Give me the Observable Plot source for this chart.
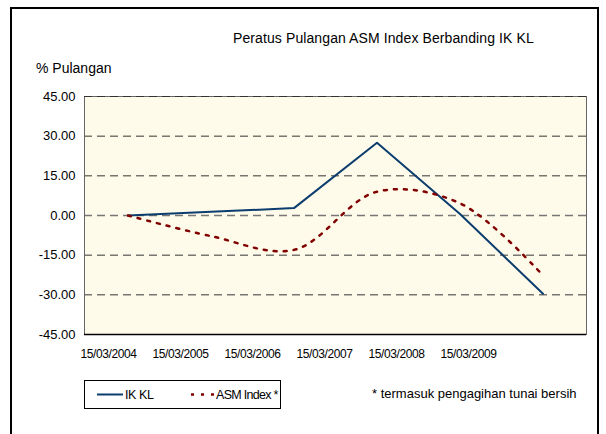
<!DOCTYPE html>
<html>
<head>
<meta charset="utf-8">
<script src="https://cdn.jsdelivr.net/npm/d3@7"></script>
<script src="https://cdn.jsdelivr.net/npm/@observablehq/plot@0.6"></script>
<style>
  body { margin: 0; background: #fff; font-family: "Liberation Sans", Arial, sans-serif; }
  #wrap { position: relative; width: 606px; height: 434px; overflow: hidden; background: #fff; }
  #frame { position: absolute; left: 10px; top: 7px; width: 589px; height: 460px; border: 2px solid #000; box-sizing: border-box; }
  #chart { position: absolute; left: 0; top: 0; }
  #xlabels { position: absolute; left: 0; top: 344px; }
  .t { position: absolute; white-space: nowrap; color: #000; line-height: 1; }
  #legend { position: absolute; left: 84px; top: 380px; width: 197px; height: 29px; border: 1px solid #000; box-sizing: border-box; background: #fff; }
</style>
</head>
<body>
<div id="wrap">
  <div id="frame"></div>
  <div id="chart"></div>
  <div id="xlabels"></div>
  <div class="t" style="left:233px; top:31px; font-size:14px; letter-spacing:0.1px;">Peratus Pulangan ASM Index Berbanding IK KL</div>
  <div class="t" style="left:36px; top:61px; font-size:14px;">% Pulangan</div>
  <div id="legend"></div>
  <div class="t" style="left:372px; top:387px; font-size:13px;">* termasuk pengagihan tunai bersih</div>
</div>
<script>
// ---- data ----
const dates = ["15/03/2004", "15/03/2005", "15/03/2006", "15/03/2007", "15/03/2008", "15/03/2009"];
const ikkl = [0, 1.4, 2.8, 27.5, 0.6, -29.6];
const asmIndex = [0, -7.8, -13.0, 9.0, 4.6, -22.7];
const yTicks = [-45, -30, -15, 0, 15, 30, 45];
const seriesNames = ["IK KL", "ASM Index *"];
const seriesColors = ["#0b3d6e", "#800000"];

const ikRows = dates.map((d, i) => ({date: d, value: ikkl[i]}));
const asmRows = dates.map((d, i) => ({date: d, value: asmIndex[i]}));
const fmt = d => d.toFixed(2);
const font = '"Liberation Sans", Arial, sans-serif';

const chart = Plot.plot({
  width: 606,
  height: 434,
  marginLeft: 84,
  marginRight: 20,
  marginTop: 96,
  marginBottom: 100,
  style: { fontFamily: font, fontSize: "13px", background: "transparent", color: "#000" },
  x: { type: "band", domain: dates, padding: 0, label: null, axis: null },
  y: { domain: [-45, 45], label: null },
  marks: [
    Plot.frame({ fill: "#fffbea" }),
    Plot.ruleY(yTicks.filter(v => v !== 0 && Math.abs(v) !== 45), { stroke: "#333", strokeWidth: 1, strokeDasharray: "8 5" }),
    Plot.ruleY([0], { stroke: "#777", strokeWidth: 1.6, strokeDasharray: "8 5" }),
    Plot.frame({ stroke: "#666", strokeWidth: 1 }),
    Plot.ruleY([45], { stroke: "#333", strokeWidth: 1, strokeDasharray: "8 5" }),
    Plot.ruleY([-45], { stroke: "#000", strokeWidth: 1.5 }),
    Plot.axisY({ ticks: yTicks, tickSize: 0, tickPadding: 9, tickFormat: fmt, label: null, fontSize: 13 }),
    Plot.line(ikRows, { x: "date", y: "value", stroke: seriesColors[0], strokeWidth: 2 }),
    Plot.line(asmRows, { x: "date", y: "value", stroke: seriesColors[1], strokeWidth: 2.5, strokeDasharray: "3 7", curve: "catmull-rom" })
  ]
});
document.getElementById("chart").appendChild(chart);

// category labels (spaced as in the original, narrower than the plot area)
const xl = Plot.plot({
  width: 606,
  height: 20,
  marginLeft: 72,
  marginRight: 102,
  marginTop: 0,
  marginBottom: 0,
  style: { fontFamily: font, fontSize: "12px", letterSpacing: "-0.4px", background: "transparent", color: "#000" },
  x: { type: "band", domain: dates, padding: 0, label: null, axis: null },
  marks: [
    Plot.text(dates, { x: d => d, text: d => d, frameAnchor: "middle", fontSize: 12 })
  ]
});
document.getElementById("xlabels").appendChild(xl);

// ---- legend ----
const lg = d3.select("#legend");
const svg = lg.append("svg").attr("width", 195).attr("height", 27).style("position", "absolute").style("left", 0).style("top", 0);
svg.append("line").attr("x1", 12).attr("x2", 38).attr("y1", 13.5).attr("y2", 13.5)
  .attr("stroke", seriesColors[0]).attr("stroke-width", 2);
svg.append("text").attr("x", 40).attr("y", 18).text(seriesNames[0])
  .attr("font-size", 12.5).attr("letter-spacing", -0.4).attr("font-family", font);
svg.append("line").attr("x1", 106).attr("x2", 130).attr("y1", 13.5).attr("y2", 13.5)
  .attr("stroke", seriesColors[1]).attr("stroke-width", 2.5).attr("stroke-dasharray", "3 7");
svg.append("text").attr("x", 131).attr("y", 18).text(seriesNames[1])
  .attr("font-size", 12.5).attr("letter-spacing", -0.7).attr("font-family", font);
</script>
</body>
</html>
